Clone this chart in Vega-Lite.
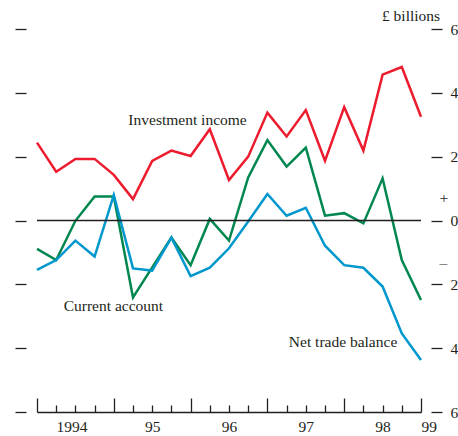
{
  "$schema": "https://vega.github.io/schema/vega-lite/v6.json",
  "width": 384,
  "height": 383,
  "autosize": {"type": "none"},
  "padding": {"left": 37, "top": 29, "right": 37, "bottom": 24},
  "config": {
    "view": {"stroke": null},
    "font": "Liberation Serif",
    "axis": {"labelFont": "Liberation Serif", "labelFontSize": 15.5, "labelColor": "#231f20", "tickColor": "#231f20", "domainColor": "#231f20", "grid": false, "title": null},
    "axisX": {
      "values": [0,1,2,3,4,5,6,7,8,9,10,11,12,13,14,15,16,17,18,19,20],
      "domain": true, "domainWidth": 1.3,
      "tickWidth": 1.3,
      "labelFlush": false,
      "labelOverlap": false,
      "labelPadding": 14,
      "labelLineHeight": 29.5
    }
  },
  "datasets": {
    "series": [
      {"t": 0, "series": "Investment income", "value": 2.44},
      {"t": 1, "series": "Investment income", "value": 1.53},
      {"t": 2, "series": "Investment income", "value": 1.93},
      {"t": 3, "series": "Investment income", "value": 1.93},
      {"t": 4, "series": "Investment income", "value": 1.43},
      {"t": 5, "series": "Investment income", "value": 0.67},
      {"t": 6, "series": "Investment income", "value": 1.87},
      {"t": 7, "series": "Investment income", "value": 2.19},
      {"t": 8, "series": "Investment income", "value": 2.02},
      {"t": 9, "series": "Investment income", "value": 2.86},
      {"t": 10, "series": "Investment income", "value": 1.27},
      {"t": 11, "series": "Investment income", "value": 2.0},
      {"t": 12, "series": "Investment income", "value": 3.38},
      {"t": 13, "series": "Investment income", "value": 2.63},
      {"t": 14, "series": "Investment income", "value": 3.46},
      {"t": 15, "series": "Investment income", "value": 1.87},
      {"t": 16, "series": "Investment income", "value": 3.55},
      {"t": 17, "series": "Investment income", "value": 2.19},
      {"t": 18, "series": "Investment income", "value": 4.57},
      {"t": 19, "series": "Investment income", "value": 4.81},
      {"t": 20, "series": "Investment income", "value": 3.25},
      {"t": 0, "series": "Current account", "value": -0.89},
      {"t": 1, "series": "Current account", "value": -1.24},
      {"t": 2, "series": "Current account", "value": -0.01},
      {"t": 3, "series": "Current account", "value": 0.75},
      {"t": 4, "series": "Current account", "value": 0.75},
      {"t": 5, "series": "Current account", "value": -2.41},
      {"t": 6, "series": "Current account", "value": -1.47},
      {"t": 7, "series": "Current account", "value": -0.53},
      {"t": 8, "series": "Current account", "value": -1.4},
      {"t": 9, "series": "Current account", "value": 0.05},
      {"t": 10, "series": "Current account", "value": -0.63},
      {"t": 11, "series": "Current account", "value": 1.35},
      {"t": 12, "series": "Current account", "value": 2.52},
      {"t": 13, "series": "Current account", "value": 1.69},
      {"t": 14, "series": "Current account", "value": 2.28},
      {"t": 15, "series": "Current account", "value": 0.15},
      {"t": 16, "series": "Current account", "value": 0.23},
      {"t": 17, "series": "Current account", "value": -0.09},
      {"t": 18, "series": "Current account", "value": 1.32},
      {"t": 19, "series": "Current account", "value": -1.24},
      {"t": 20, "series": "Current account", "value": -2.49},
      {"t": 0, "series": "Net trade balance", "value": -1.55},
      {"t": 1, "series": "Net trade balance", "value": -1.24},
      {"t": 2, "series": "Net trade balance", "value": -0.63},
      {"t": 3, "series": "Net trade balance", "value": -1.13},
      {"t": 4, "series": "Net trade balance", "value": 0.8},
      {"t": 5, "series": "Net trade balance", "value": -1.5},
      {"t": 6, "series": "Net trade balance", "value": -1.57},
      {"t": 7, "series": "Net trade balance", "value": -0.54},
      {"t": 8, "series": "Net trade balance", "value": -1.74},
      {"t": 9, "series": "Net trade balance", "value": -1.48},
      {"t": 10, "series": "Net trade balance", "value": -0.87},
      {"t": 11, "series": "Net trade balance", "value": -0.03},
      {"t": 12, "series": "Net trade balance", "value": 0.83},
      {"t": 13, "series": "Net trade balance", "value": 0.15},
      {"t": 14, "series": "Net trade balance", "value": 0.4},
      {"t": 15, "series": "Net trade balance", "value": -0.79},
      {"t": 16, "series": "Net trade balance", "value": -1.4},
      {"t": 17, "series": "Net trade balance", "value": -1.48},
      {"t": 18, "series": "Net trade balance", "value": -2.07},
      {"t": 19, "series": "Net trade balance", "value": -3.54},
      {"t": 20, "series": "Net trade balance", "value": -4.37}
    ],
    "labels": [
      {"t": 7.84, "value": 2.99, "label": "Investment income"},
      {"t": 3.98, "value": -2.84, "label": "Current account"},
      {"t": 15.94, "value": -3.97, "label": "Net trade balance"},
      {"t": 19.48, "value": 6.25, "label": "£ billions"}
    ],
    "zero": [{"zero": 0}]
  },
  "layer": [
    {
      "data": {"name": "series"},
      "mark": {"type": "line", "strokeWidth": 2.5, "strokeJoin": "miter"},
      "encoding": {
        "x": {
          "field": "t", "type": "quantitative",
          "scale": {"domain": [0, 20], "nice": false, "zero": false},
          "axis": {
            "values": [0,1,2,3,4,5,6,7,8,9,10,11,12,13,14,15,16,17,18,19,20],
            "tickSize": {"condition": {"test": "datum.value % 4 === 0", "value": -14}, "value": -7},
            "labelExpr": "datum.value==2?'1994':datum.value==6?'95':datum.value==10?'96':datum.value==14?'97':datum.value==18?'98':datum.value==20?'99':''",
            "labelBaseline": {"condition": {"test": "datum.value == 20", "value": "line-top"}, "value": "top"},
            "labelAlign": {"condition": {"test": "datum.value == 20", "value": "left"}, "value": "center"},
            "labelOffset": {"condition": {"test": "datum.value == 2", "value": -4}, "value": 0}
          }
        },
        "y": {
          "field": "value", "type": "quantitative",
          "scale": {"domain": [-6, 6], "nice": false, "zero": false},
          "axis": {"orient": "left", "values": [-6,-4,-2,0,2,4,6], "labels": false, "domain": false, "tickSize": 11, "tickWidth": 1.3, "offset": 11}
        },
        "color": {
          "field": "series", "type": "nominal",
          "scale": {"domain": ["Investment income", "Current account", "Net trade balance"], "range": ["#ec1c2e", "#00874f", "#0097cd"]},
          "legend": null
        }
      }
    },
    {
      "data": {"name": "zero"},
      "mark": {"type": "rule", "color": "#231f20", "strokeWidth": 1.3},
      "encoding": {
        "y": {
          "field": "zero", "type": "quantitative",
          "scale": {"domain": [-6, 6], "nice": false, "zero": false},
          "axis": {
            "orient": "right",
            "values": [-6,-4,-2,-1.32,0,0.72,2,4,6],
            "domain": false,
            "offset": 10,
            "tickWidth": 1.3,
            "tickSize": {"condition": {"test": "datum.value == 0.72 || datum.value == -1.32", "value": 0}, "value": 11},
            "labelPadding": 8,
            "labelExpr": "datum.value == 0.72 ? '+' : datum.value == -1.32 ? '–' : format(abs(datum.value), 'd')",
            "labelBaseline": "middle",
            "labelFlush": false,
            "labelOverlap": false
          }
        }
      }
    },
    {
      "data": {"name": "labels"},
      "mark": {"type": "text", "font": "Liberation Serif", "fontSize": 15.5, "color": "#231f20", "align": "center", "baseline": "alphabetic"},
      "encoding": {
        "x": {
          "field": "t", "type": "quantitative",
          "scale": {"domain": [0, 20], "nice": false, "zero": false},
          "axis": {
            "values": [0,1,2,3,4,5,6,7,8,9,10,11,12,13,14,15,16,17,18,19,20],
            "tickSize": {"condition": {"test": "datum.value % 4 === 0", "value": -14}, "value": -7},
            "labelExpr": "datum.value==2?'1994':datum.value==6?'95':datum.value==10?'96':datum.value==14?'97':datum.value==18?'98':datum.value==20?'99':''",
            "labelBaseline": {"condition": {"test": "datum.value == 20", "value": "line-top"}, "value": "top"},
            "labelAlign": {"condition": {"test": "datum.value == 20", "value": "left"}, "value": "center"},
            "labelOffset": {"condition": {"test": "datum.value == 2", "value": -4}, "value": 0}
          }
        },
        "y": {"field": "value", "type": "quantitative", "scale": {"domain": [-6, 6], "nice": false, "zero": false}, "axis": null},
        "text": {"field": "label"}
      }
    }
  ],
  "resolve": {"scale": {"y": "independent"}, "axis": {"y": "independent"}}
}
